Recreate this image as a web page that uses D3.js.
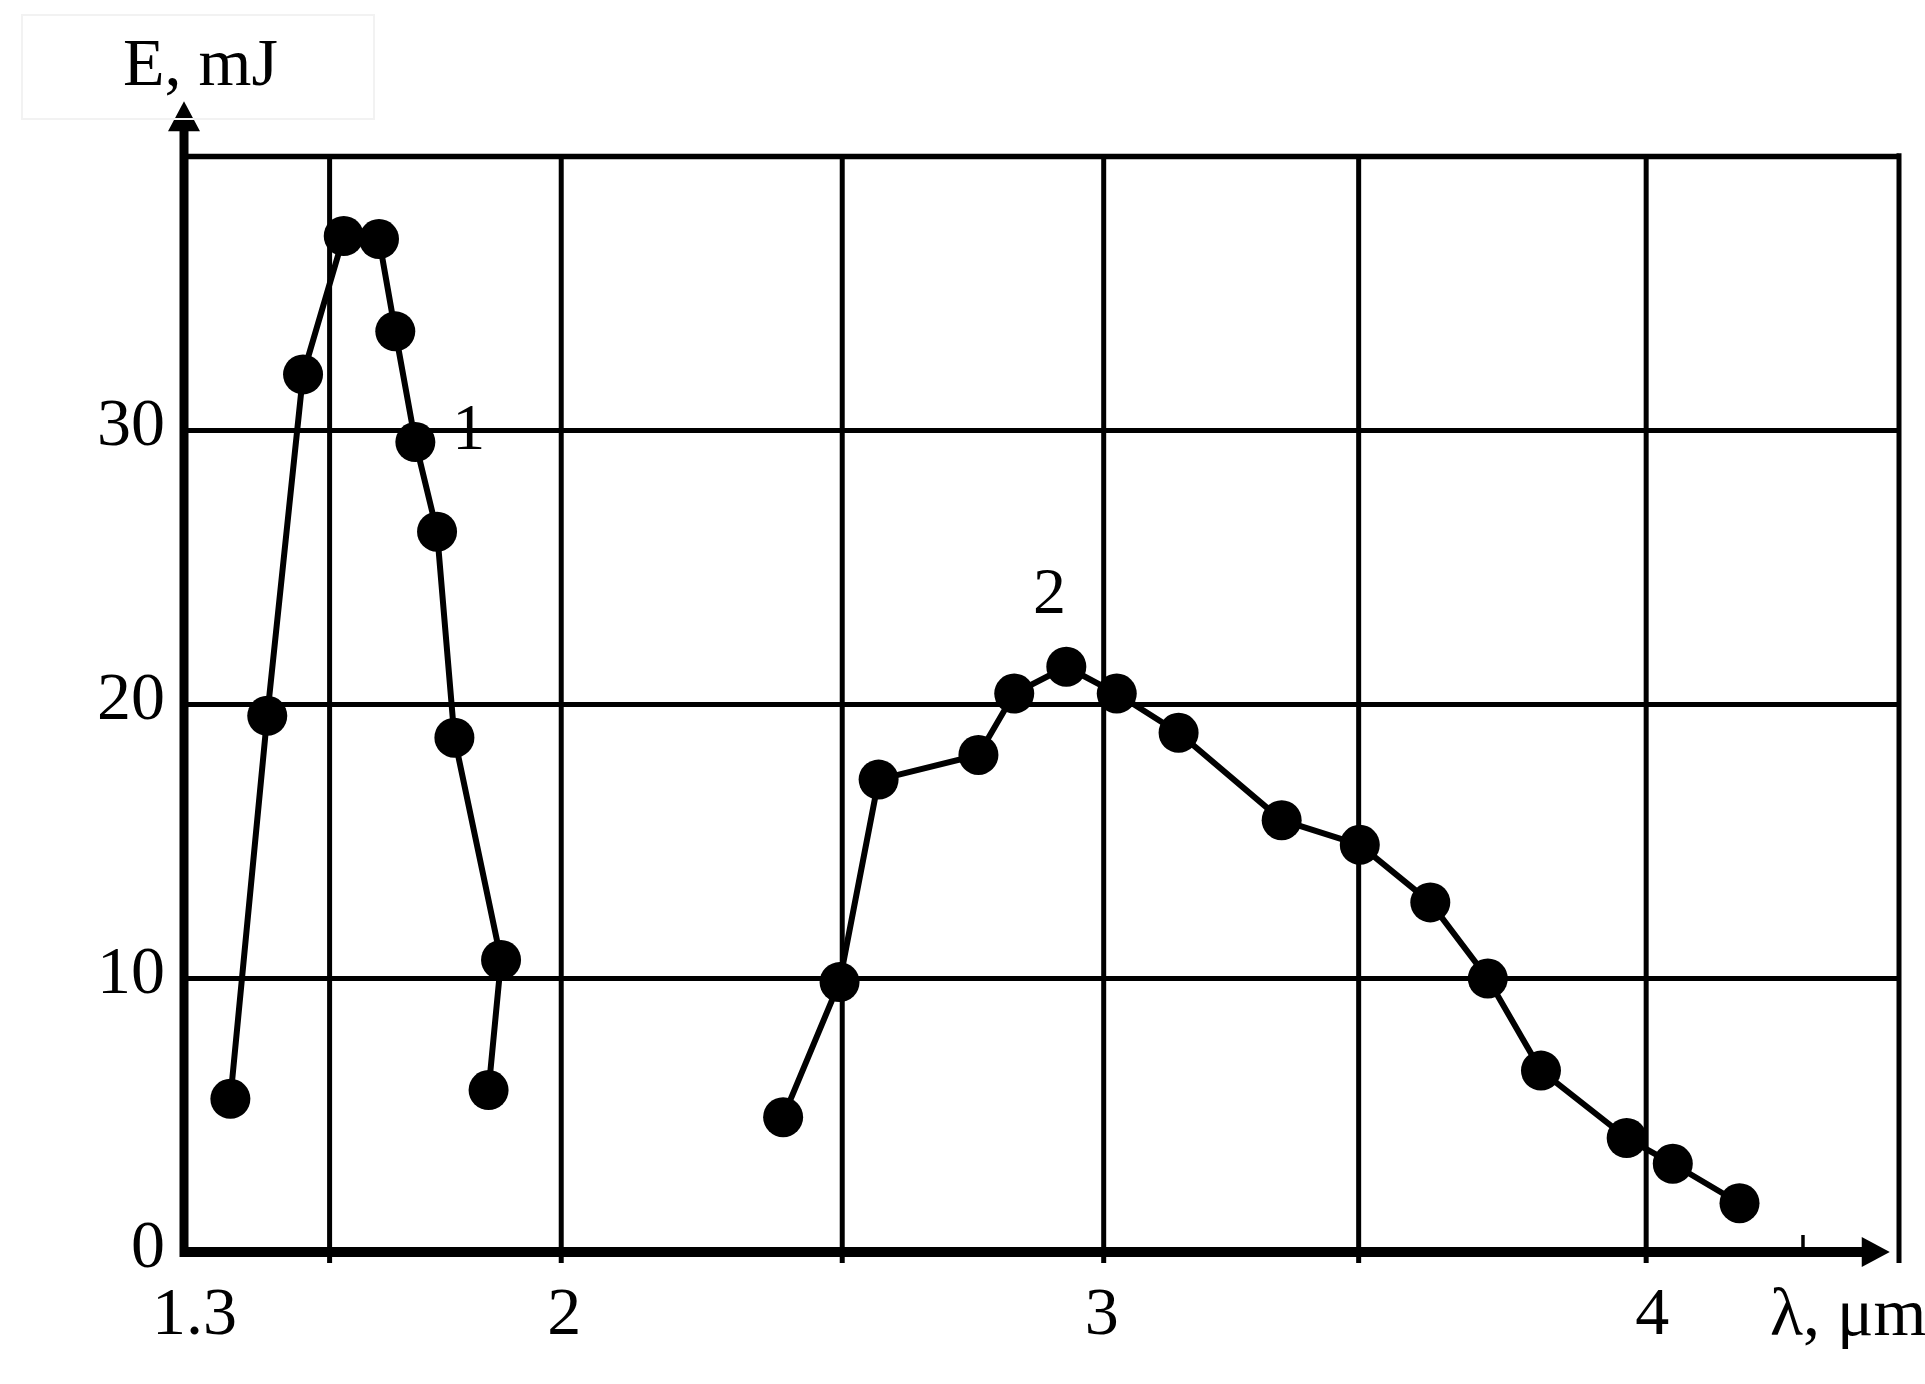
<!DOCTYPE html>
<html><head><meta charset="utf-8">
<script src="https://cdn.jsdelivr.net/npm/d3@7"></script>
<style>
body{margin:0;background:#fff}
svg{display:block;background:#fff}
text{font-family:'Liberation Serif','Times New Roman',serif;fill:#000}
</style>
</head><body>
<svg id="chart" width="1925" height="1384"></svg>
<script>
// ---- data ----
const curve1Lambda = [1.391, 1.459, 1.525, 1.600, 1.665, 1.695, 1.732, 1.772, 1.804, 1.890, 1.867];
const curve1Energy = [5.59, 19.57, 32.03, 37.08, 36.97, 33.6, 29.56, 26.29, 18.77, 10.66, 5.91];
const curve2Lambda = [2.410, 2.514, 2.586, 2.770, 2.836, 2.932, 3.025, 3.139, 3.329, 3.473, 3.603, 3.709, 3.807, 3.965, 4.050, 4.173];
const curve2Energy = [4.92, 9.85, 17.24, 18.14, 20.38, 21.36, 20.38, 18.95, 15.76, 14.86, 12.76, 9.98, 6.62, 4.16, 3.22, 1.78];
const xTickLabels = [1.3, 2, 3, 4];
const xGridValues = [1.573, 2, 2.518, 3, 3.470, 4];
const xMinorTicks = [4.29];
const yTickLabels = [0, 10, 20, 30];
const yGridValues = [10, 20, 30, 40];
const curveNames = ["1", "2"];
const xTitle = "λ, μm";
const yTitle = "E, mJ";

// ---- layout ----
const svg = d3.select("#chart");
const x = d3.scaleLinear().domain([1.3, 4.467]).range([181, 1899]);
const y = d3.scaleLinear().domain([0, 40]).range([1252, 156]);
const xEnd = 4.467, yEnd = 40;
const axisX = x(1.3) + 3;
const FS = 68;
const GRID_W = 5;

// grid: vertical lines (with small ticks below axis)
const gx = svg.append("g")
  .attr("transform", `translate(0,${y(0) + 11})`)
  .call(d3.axisBottom(x).tickValues(xGridValues).tickSize(-(y(0) + 11 - y(yEnd))).tickFormat(""));
gx.select(".domain").remove();
gx.selectAll("line").attr("stroke", "#000").attr("stroke-width", GRID_W);

// grid: horizontal lines
const gy = svg.append("g")
  .attr("transform", `translate(${axisX},0)`)
  .call(d3.axisLeft(y).tickValues(yGridValues).tickSize(-(x(xEnd) - axisX)).tickFormat(""));
gy.select(".domain").remove();
gy.selectAll("line").attr("stroke", "#000").attr("stroke-width", d => d === yEnd ? 5.5 : GRID_W);

// right frame
svg.append("line")
  .attr("x1", x(xEnd)).attr("x2", x(xEnd))
  .attr("y1", y(yEnd) - 2.75).attr("y2", y(0) + 11)
  .attr("stroke", "#000").attr("stroke-width", 5);

// minor tick above axis
svg.selectAll(".minor").data(xMinorTicks).join("line")
  .attr("x1", d => x(d)).attr("x2", d => x(d))
  .attr("y1", y(0)).attr("y2", y(0) - 17)
  .attr("stroke", "#000").attr("stroke-width", 3.5);

// main axes with arrows
const xArrow = 4.45, yArrow = 42.0;
svg.append("line")
  .attr("x1", axisX - 4).attr("x2", x(xArrow) - 20)
  .attr("y1", y(0)).attr("y2", y(0))
  .attr("stroke", "#000").attr("stroke-width", 10);
svg.append("path")
  .attr("d", `M${x(xArrow)},${y(0)} L${x(xArrow) - 28},${y(0) - 15} L${x(xArrow) - 28},${y(0) + 15} Z`)
  .attr("fill", "#000");
svg.append("line")
  .attr("x1", axisX).attr("x2", axisX)
  .attr("y1", y(0) + 5).attr("y2", y(yArrow) + 20)
  .attr("stroke", "#000").attr("stroke-width", 9);
svg.append("path")
  .attr("d", `M${axisX},${y(yArrow)} L${axisX - 16},${y(yArrow) + 30} L${axisX + 16},${y(yArrow) + 30} Z`)
  .attr("fill", "#000");

// tick labels
const xl = svg.append("g")
  .attr("transform", `translate(3,${y(0)})`)
  .call(d3.axisBottom(x).tickValues(xTickLabels).tickSize(0).tickPadding(34).tickFormat(d => String(d)));
xl.select(".domain").remove();
xl.selectAll("text").attr("font-family", "'Liberation Serif','Times New Roman',serif").attr("font-size", FS)
  .attr("dx", d => d === 1.3 ? 10 : d === 3 ? -5 : d === 4 ? 3 : 0);

const yl = svg.append("g")
  .attr("transform", `translate(${axisX},0)`)
  .call(d3.axisLeft(y).tickValues(yTickLabels).tickSize(0).tickPadding(19).tickFormat(d => String(d)));
yl.select(".domain").remove();
yl.selectAll("text").attr("font-family", "'Liberation Serif','Times New Roman',serif").attr("font-size", FS).attr("dy", "0.22em");

// axis titles
svg.append("rect").attr("x", 22).attr("y", 15).attr("width", 352).attr("height", 104)
  .attr("fill", "none").attr("stroke", "#f2f2f2").attr("stroke-width", 2);
svg.append("text").attr("x", axisX - 61).attr("y", 85).attr("font-size", FS).text(yTitle);
svg.append("text").attr("x", 1770).attr("y", 1335).attr("font-size", FS).text(xTitle);

// curves
const s1 = curve1Lambda.map((l, i) => [l, curve1Energy[i]]);
const s2 = curve2Lambda.map((l, i) => [l, curve2Energy[i]]);
const line = d3.line().x(d => x(d[0])).y(d => y(d[1]));
[s1, s2].forEach(s => {
  svg.append("path").attr("d", line(s)).attr("fill", "none").attr("stroke", "#000")
    .attr("stroke-width", 6).attr("stroke-linejoin", "round");
  svg.append("g").selectAll("circle").data(s).join("circle")
    .attr("cx", d => x(d[0])).attr("cy", d => y(d[1])).attr("r", 20).attr("fill", "#000");
});

// curve labels
svg.append("text").attr("x", x(1.80)).attr("y", y(29.3)).attr("font-size", 66).text(curveNames[0]);
svg.append("text").attr("x", x(2.901)).attr("y", y(23.32)).attr("font-size", 66).attr("text-anchor", "middle").text(curveNames[1]);
</script>
</body></html>
